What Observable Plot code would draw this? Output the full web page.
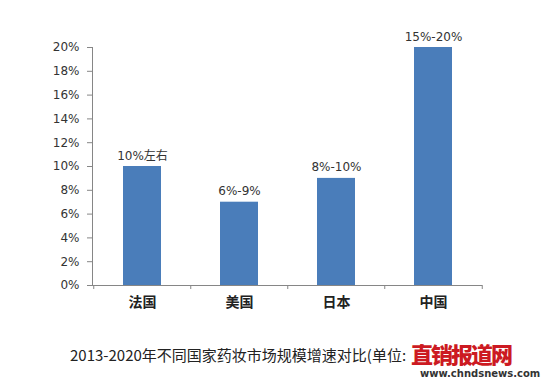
<!DOCTYPE html>
<html>
<head>
<meta charset="utf-8">
<script src="https://cdn.jsdelivr.net/npm/d3@7"></script>
<script src="https://cdn.jsdelivr.net/npm/@observablehq/plot@0.6"></script>
<style>
  html, body { margin: 0; padding: 0; background: #fff; }
  #wrap { position: relative; width: 545px; height: 385px; overflow: hidden; font-family: "DejaVu Sans", sans-serif; }
  #chart svg { display: block; }
  .caption { position: absolute; left: 70px; top: 345px; font-size: 15px; color: #222; font-family: "Noto Sans CJK SC", "DejaVu Sans", sans-serif; white-space: nowrap; line-height: 19px; }
  .logo { position: absolute; left: 411px; top: 340px; font-size: 22px; font-weight: 900; color: #cc1a22; font-family: "Noto Sans CJK SC", sans-serif; white-space: nowrap; line-height: 26px; letter-spacing: -2px; }
  .url { position: absolute; left: 420px; top: 368px; font-size: 10px; font-weight: bold; color: #333; font-family: "DejaVu Sans", sans-serif; white-space: nowrap; }
</style>
</head>
<body>
<div id="wrap">
  <div id="chart"></div>
  <div class="caption">2013-2020年不同国家药妆市场规模增速对比(单位:</div>
  <div class="logo">直销报道网</div>
  <div class="url">www.chndsnews.com</div>
</div>
<script>
const categories = ["法国", "美国", "日本", "中国"];
const values = [10, 7, 9, 20];
const barLabels = ["10%左右", "6%-9%", "8%-10%", "15%-20%"];
const yTicks = [0, 2, 4, 6, 8, 10, 12, 14, 16, 18, 20];

const data = categories.map((c, i) => ({cat: c, value: values[i], label: barLabels[i]}));

const W = 545, H = 330, ML = 92, MR = 63, MT = 47, MB = 45;
const step = (W - ML - MR) / categories.length;
const axisGray = "#868686";

const chart = Plot.plot({
  width: W, height: H,
  marginLeft: ML, marginRight: MR, marginTop: MT, marginBottom: MB,
  style: {fontFamily: "DejaVu Sans, sans-serif", background: "#fff"},
  x: {domain: categories, paddingInner: 0.61, paddingOuter: 0.305, align: 0.5},
  y: {domain: [0, 20]},
  marks: [
    Plot.barY(data, {x: "cat", y: "value", fill: "#4a7dba"}),
    Plot.frame({anchor: "left", stroke: axisGray}),
    Plot.ruleY([0], {stroke: axisGray}),
    Plot.axisY({ticks: yTicks, tickFormat: d => d + "%", tickSize: 5, tickPadding: 8, fontSize: 12, stroke: axisGray, fill: "#333", label: null}),
    Plot.axisX({tickSize: 0, tickPadding: 12, fontSize: 14, fontWeight: "bold", fill: "#222", label: null, fontFamily: "Noto Sans CJK SC, sans-serif"}),
    Plot.axisX({tickSize: 4, tickFormat: () => "", dx: -step / 2, stroke: axisGray, label: null}),
    Plot.axisX([categories[categories.length - 1]], {tickSize: 4, tickFormat: () => "", dx: step / 2, stroke: axisGray, label: null}),
    Plot.text(data, {x: "cat", y: "value", text: "label", dy: -7, lineAnchor: "bottom", fontSize: 12, fill: "#333", fontFamily: "DejaVu Sans, Noto Sans CJK SC, sans-serif"})
  ]
});
document.getElementById("chart").appendChild(chart);
</script>
</body>
</html>
